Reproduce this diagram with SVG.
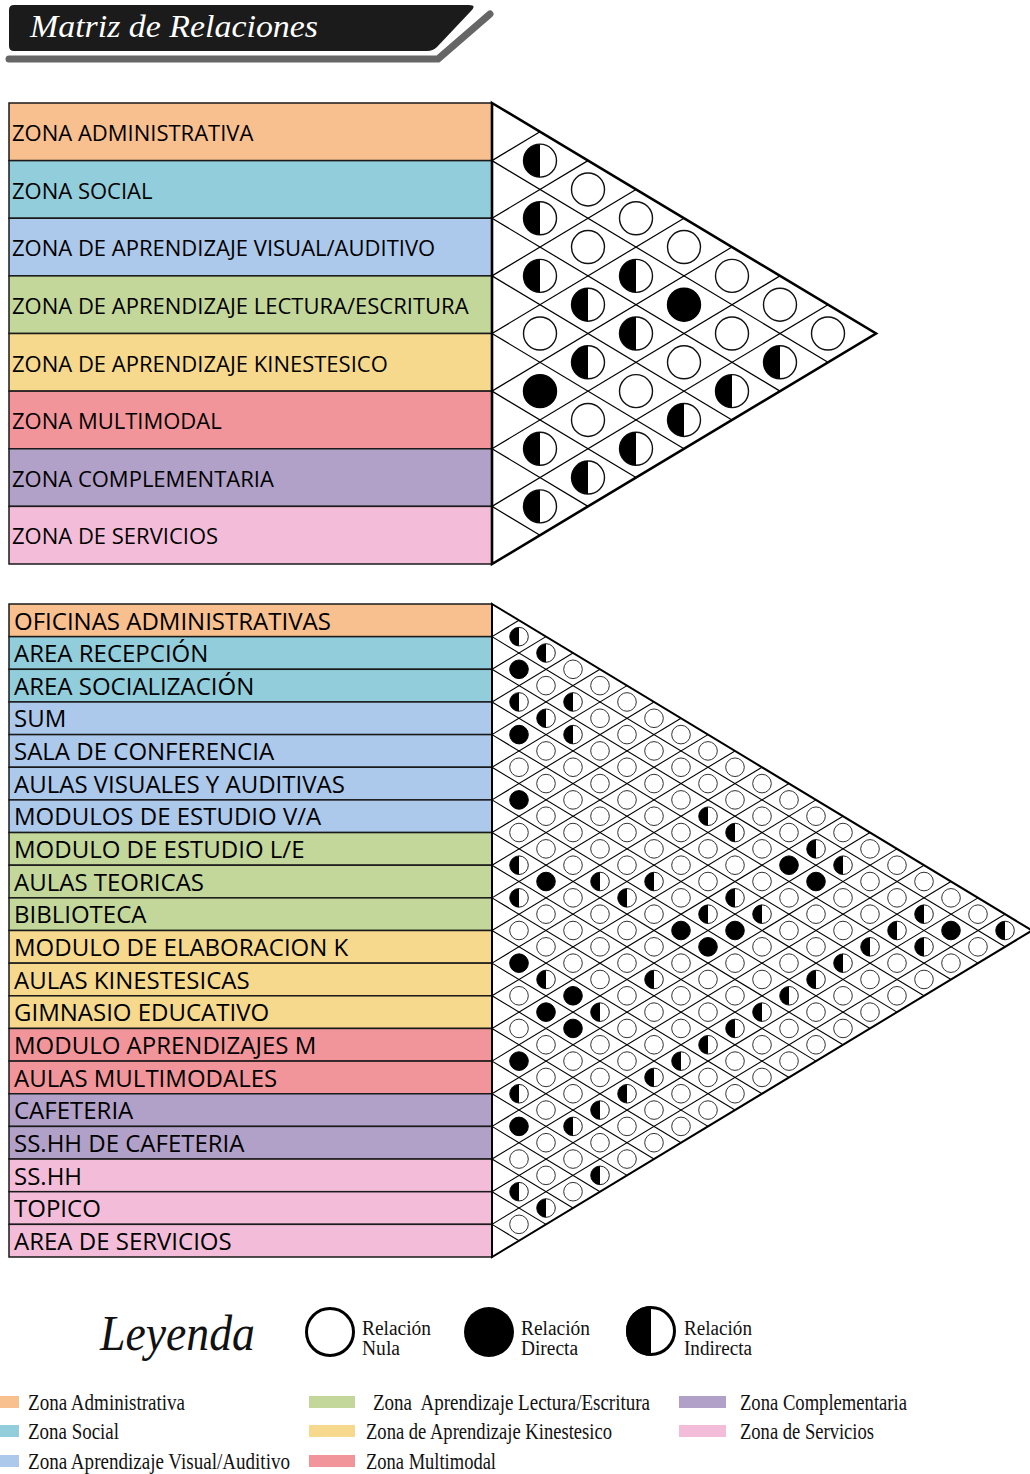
<svg xmlns="http://www.w3.org/2000/svg" width="1030" height="1474" viewBox="0 0 1030 1474">
<style>
.lbl{font-family:"Open Sans","Liberation Sans",sans-serif;fill:#000}
.t1{font-size:22px}
.t2{font-size:24px}
.row{stroke:#1a1a1a;stroke-width:1.5}
.grid{stroke:#000;fill:none}
.leg{font-family:"Liberation Serif","Times New Roman",serif;fill:#111}
.c-adm{fill:#F8BF8F}.c-soc{fill:#92CDDC}.c-vis{fill:#ACC8EA}.c-lec{fill:#C4D79B}
.c-kin{fill:#F6D98D}.c-mul{fill:#F2959B}.c-com{fill:#B1A0C7}.c-ser{fill:#F3BDD9}
</style>
<defs>
<g id="E1"><circle r="16.5" fill="#fff" stroke="#111" stroke-width="1.4"/></g>
<g id="F1"><circle r="16.5" fill="#000" stroke="#000" stroke-width="1.4"/></g>
<g id="H1"><circle r="16.5" fill="#fff" stroke="#111" stroke-width="1.4"/><path d="M0,-16.5A16.5,16.5 0 0 0 0,16.5Z" fill="#000"/></g>
<g id="e"><circle r="9.3" fill="#fff" stroke="#333" stroke-width="1"/></g>
<g id="f"><circle r="9.3" fill="#000" stroke="#000" stroke-width="1"/></g>
<g id="h"><circle r="9.3" fill="#fff" stroke="#222" stroke-width="1"/><path d="M0,-9.3A9.3,9.3 0 0 0 0,9.3Z" fill="#000"/></g>
</defs>
<rect width="1030" height="1474" fill="#fff"/>

<g id="header">
<polyline points="9,59 438,59 490,14" fill="none" stroke="#666" stroke-width="7" stroke-linecap="round" stroke-linejoin="round"/>
<path d="M14,5 H469 Q477,5 471,11 L437,47 Q433,51 427,51 H14 Q9,51 9,46 V10 Q9,5 14,5 Z" fill="#1b1b1b"/>
<text x="30" y="37" font-family="Liberation Serif,serif" font-style="italic" font-size="32" fill="#fff" textLength="288" lengthAdjust="spacingAndGlyphs">Matriz de Relaciones</text>
</g>

<!-- TOP MATRIX labels -->
<g id="top-labels" class="lbl t1">
<g id="z-admin"><rect class="row c-adm" x="9" y="103" width="483" height="57.625"/><text x="12" y="141">ZONA ADMINISTRATIVA</text></g>
<g id="z-social"><rect class="row c-soc" x="9" y="160.625" width="483" height="57.625"/><text x="12" y="198.6">ZONA SOCIAL</text></g>
<g id="z-visual"><rect class="row c-vis" x="9" y="218.25" width="483" height="57.625"/><text x="12" y="256.3">ZONA DE APRENDIZAJE VISUAL/AUDITIVO</text></g>
<g id="z-lectura"><rect class="row c-lec" x="9" y="275.875" width="483" height="57.625"/><text x="12" y="313.9">ZONA DE APRENDIZAJE LECTURA/ESCRITURA</text></g>
<g id="z-kines"><rect class="row c-kin" x="9" y="333.5" width="483" height="57.625"/><text x="12" y="371.5">ZONA DE APRENDIZAJE KINESTESICO</text></g>
<g id="z-multi"><rect class="row c-mul" x="9" y="391.125" width="483" height="57.625"/><text x="12" y="429.1">ZONA MULTIMODAL</text></g>
<g id="z-comp"><rect class="row c-com" x="9" y="448.75" width="483" height="57.625"/><text x="12" y="486.8">ZONA COMPLEMENTARIA</text></g>
<g id="z-serv"><rect class="row c-ser" x="9" y="506.375" width="483" height="57.625"/><text x="12" y="544.4">ZONA DE SERVICIOS</text></g>
</g>

<g id="connectors">
<g id="top-grid" class="grid" stroke-width="1.2">
<line x1="492" y1="160.625" x2="828" y2="362.3125"/>
<line x1="492" y1="218.25" x2="780" y2="391.125"/>
<line x1="492" y1="275.875" x2="732" y2="419.9375"/>
<line x1="492" y1="333.5" x2="684" y2="448.75"/>
<line x1="492" y1="391.125" x2="636" y2="477.5625"/>
<line x1="492" y1="448.75" x2="588" y2="506.375"/>
<line x1="492" y1="506.375" x2="540" y2="535.1875"/>
<line x1="492" y1="160.625" x2="540" y2="131.8125"/>
<line x1="492" y1="218.25" x2="588" y2="160.625"/>
<line x1="492" y1="275.875" x2="636" y2="189.4375"/>
<line x1="492" y1="333.5" x2="684" y2="218.25"/>
<line x1="492" y1="391.125" x2="732" y2="247.0625"/>
<line x1="492" y1="448.75" x2="780" y2="275.875"/>
<line x1="492" y1="506.375" x2="828" y2="304.6875"/>
</g>
<g id="bottom-grid" class="grid" stroke-width="1.1">
<line x1="492" y1="636.65" x2="1005" y2="946.825"/>
<line x1="492" y1="669.3" x2="978" y2="963.15"/>
<line x1="492" y1="701.95" x2="951" y2="979.475"/>
<line x1="492" y1="734.6" x2="924" y2="995.8"/>
<line x1="492" y1="767.25" x2="897" y2="1012.125"/>
<line x1="492" y1="799.9" x2="870" y2="1028.45"/>
<line x1="492" y1="832.55" x2="843" y2="1044.775"/>
<line x1="492" y1="865.2" x2="816" y2="1061.1"/>
<line x1="492" y1="897.85" x2="789" y2="1077.425"/>
<line x1="492" y1="930.5" x2="762" y2="1093.75"/>
<line x1="492" y1="963.15" x2="735" y2="1110.075"/>
<line x1="492" y1="995.8" x2="708" y2="1126.4"/>
<line x1="492" y1="1028.45" x2="681" y2="1142.725"/>
<line x1="492" y1="1061.1" x2="654" y2="1159.05"/>
<line x1="492" y1="1093.75" x2="627" y2="1175.375"/>
<line x1="492" y1="1126.4" x2="600" y2="1191.7"/>
<line x1="492" y1="1159.05" x2="573" y2="1208.025"/>
<line x1="492" y1="1191.7" x2="546" y2="1224.35"/>
<line x1="492" y1="1224.35" x2="519" y2="1240.675"/>
<line x1="492" y1="636.65" x2="519" y2="620.325"/>
<line x1="492" y1="669.3" x2="546" y2="636.65"/>
<line x1="492" y1="701.95" x2="573" y2="652.975"/>
<line x1="492" y1="734.6" x2="600" y2="669.3"/>
<line x1="492" y1="767.25" x2="627" y2="685.625"/>
<line x1="492" y1="799.9" x2="654" y2="701.95"/>
<line x1="492" y1="832.55" x2="681" y2="718.275"/>
<line x1="492" y1="865.2" x2="708" y2="734.6"/>
<line x1="492" y1="897.85" x2="735" y2="750.925"/>
<line x1="492" y1="930.5" x2="762" y2="767.25"/>
<line x1="492" y1="963.15" x2="789" y2="783.575"/>
<line x1="492" y1="995.8" x2="816" y2="799.9"/>
<line x1="492" y1="1028.45" x2="843" y2="816.225"/>
<line x1="492" y1="1061.1" x2="870" y2="832.55"/>
<line x1="492" y1="1093.75" x2="897" y2="848.875"/>
<line x1="492" y1="1126.4" x2="924" y2="865.2"/>
<line x1="492" y1="1159.05" x2="951" y2="881.525"/>
<line x1="492" y1="1191.7" x2="978" y2="897.85"/>
<line x1="492" y1="1224.35" x2="1005" y2="914.175"/>
</g>
</g>

<g id="top-triangle"><polygon points="492,103 876,333.5 492,564" fill="none" stroke="#000" stroke-width="2.6" stroke-linejoin="miter"/></g>

<g id="top-cells">
<use href="#H1" x="540" y="160.625"/>
<use href="#E1" x="588" y="189.4375"/>
<use href="#H1" x="540" y="218.25"/>
<use href="#E1" x="636" y="218.25"/>
<use href="#E1" x="588" y="247.0625"/>
<use href="#E1" x="684" y="247.0625"/>
<use href="#H1" x="540" y="275.875"/>
<use href="#H1" x="636" y="275.875"/>
<use href="#E1" x="732" y="275.875"/>
<use href="#H1" x="588" y="304.6875"/>
<use href="#F1" x="684" y="304.6875"/>
<use href="#E1" x="780" y="304.6875"/>
<use href="#E1" x="540" y="333.5"/>
<use href="#H1" x="636" y="333.5"/>
<use href="#E1" x="732" y="333.5"/>
<use href="#E1" x="828" y="333.5"/>
<use href="#H1" x="588" y="362.3125"/>
<use href="#E1" x="684" y="362.3125"/>
<use href="#H1" x="780" y="362.3125"/>
<use href="#F1" x="540" y="391.125"/>
<use href="#E1" x="636" y="391.125"/>
<use href="#H1" x="732" y="391.125"/>
<use href="#E1" x="588" y="419.9375"/>
<use href="#H1" x="684" y="419.9375"/>
<use href="#H1" x="540" y="448.75"/>
<use href="#H1" x="636" y="448.75"/>
<use href="#H1" x="588" y="477.5625"/>
<use href="#H1" x="540" y="506.375"/>
</g>

<!-- BOTTOM MATRIX labels -->
<g id="bottom-labels" class="lbl t2">
<g id="r01"><rect class="row c-adm" x="9" y="604" width="483" height="32.65"/><text x="14" y="629.5">OFICINAS ADMINISTRATIVAS</text></g>
<g id="r02"><rect class="row c-soc" x="9" y="636.65" width="483" height="32.65"/><text x="14" y="662.15">AREA RECEPCIÓN</text></g>
<g id="r03"><rect class="row c-soc" x="9" y="669.3" width="483" height="32.65"/><text x="14" y="694.8">AREA SOCIALIZACIÓN</text></g>
<g id="r04"><rect class="row c-vis" x="9" y="701.95" width="483" height="32.65"/><text x="14" y="727.45">SUM</text></g>
<g id="r05"><rect class="row c-vis" x="9" y="734.6" width="483" height="32.65"/><text x="14" y="760.1">SALA DE CONFERENCIA</text></g>
<g id="r06"><rect class="row c-vis" x="9" y="767.25" width="483" height="32.65"/><text x="14" y="792.75">AULAS VISUALES Y AUDITIVAS</text></g>
<g id="r07"><rect class="row c-vis" x="9" y="799.9" width="483" height="32.65"/><text x="14" y="825.4">MODULOS DE ESTUDIO V/A</text></g>
<g id="r08"><rect class="row c-lec" x="9" y="832.55" width="483" height="32.65"/><text x="14" y="858.05">MODULO DE ESTUDIO L/E</text></g>
<g id="r09"><rect class="row c-lec" x="9" y="865.2" width="483" height="32.65"/><text x="14" y="890.7">AULAS TEORICAS</text></g>
<g id="r10"><rect class="row c-lec" x="9" y="897.85" width="483" height="32.65"/><text x="14" y="923.35">BIBLIOTECA</text></g>
<g id="r11"><rect class="row c-kin" x="9" y="930.5" width="483" height="32.65"/><text x="14" y="956">MODULO DE ELABORACION K</text></g>
<g id="r12"><rect class="row c-kin" x="9" y="963.15" width="483" height="32.65"/><text x="14" y="988.65">AULAS KINESTESICAS</text></g>
<g id="r13"><rect class="row c-kin" x="9" y="995.8" width="483" height="32.65"/><text x="14" y="1021.3">GIMNASIO EDUCATIVO</text></g>
<g id="r14"><rect class="row c-mul" x="9" y="1028.45" width="483" height="32.65"/><text x="14" y="1053.95">MODULO APRENDIZAJES M</text></g>
<g id="r15"><rect class="row c-mul" x="9" y="1061.1" width="483" height="32.65"/><text x="14" y="1086.6">AULAS MULTIMODALES</text></g>
<g id="r16"><rect class="row c-com" x="9" y="1093.75" width="483" height="32.65"/><text x="14" y="1119.25">CAFETERIA</text></g>
<g id="r17"><rect class="row c-com" x="9" y="1126.4" width="483" height="32.65"/><text x="14" y="1151.9">SS.HH DE CAFETERIA</text></g>
<g id="r18"><rect class="row c-ser" x="9" y="1159.05" width="483" height="32.65"/><text x="14" y="1184.55">SS.HH</text></g>
<g id="r19"><rect class="row c-ser" x="9" y="1191.7" width="483" height="32.65"/><text x="14" y="1217.2">TOPICO</text></g>
<g id="r20"><rect class="row c-ser" x="9" y="1224.35" width="483" height="32.65"/><text x="14" y="1249.85">AREA DE SERVICIOS</text></g>
</g>

<g id="bottom-triangle"><polygon points="492,604 1032,930.5 492,1257" fill="none" stroke="#000" stroke-width="2" stroke-linejoin="miter"/></g>

<g id="bottom-cells">
<g transform="translate(519,0)">
<use href="#h" y="636.65"/><use href="#f" y="669.3"/><use href="#h" y="701.95"/><use href="#f" y="734.6"/><use href="#e" y="767.25"/><use href="#f" y="799.9"/><use href="#e" y="832.55"/><use href="#h" y="865.2"/><use href="#h" y="897.85"/><use href="#e" y="930.5"/><use href="#f" y="963.15"/><use href="#e" y="995.8"/><use href="#e" y="1028.45"/><use href="#f" y="1061.1"/><use href="#h" y="1093.75"/><use href="#f" y="1126.4"/><use href="#e" y="1159.05"/><use href="#h" y="1191.7"/><use href="#e" y="1224.35"/>
</g>
<g transform="translate(546,0)">
<use href="#h" y="652.975"/><use href="#e" y="685.625"/><use href="#h" y="718.275"/><use href="#e" y="750.925"/><use href="#e" y="783.575"/><use href="#e" y="816.225"/><use href="#e" y="848.875"/><use href="#f" y="881.525"/><use href="#e" y="914.175"/><use href="#e" y="946.825"/><use href="#h" y="979.475"/><use href="#f" y="1012.125"/><use href="#e" y="1044.775"/><use href="#e" y="1077.425"/><use href="#e" y="1110.075"/><use href="#e" y="1142.725"/><use href="#e" y="1175.375"/><use href="#h" y="1208.025"/>
</g>
<g transform="translate(573,0)">
<use href="#e" y="669.3"/><use href="#h" y="701.95"/><use href="#h" y="734.6"/><use href="#e" y="767.25"/><use href="#e" y="799.9"/><use href="#e" y="832.55"/><use href="#e" y="865.2"/><use href="#e" y="897.85"/><use href="#e" y="930.5"/><use href="#e" y="963.15"/><use href="#f" y="995.8"/><use href="#f" y="1028.45"/><use href="#e" y="1061.1"/><use href="#e" y="1093.75"/><use href="#h" y="1126.4"/><use href="#e" y="1159.05"/><use href="#e" y="1191.7"/>
</g>
<g transform="translate(600,0)">
<use href="#e" y="685.625"/><use href="#e" y="718.275"/><use href="#e" y="750.925"/><use href="#e" y="783.575"/><use href="#e" y="816.225"/><use href="#e" y="848.875"/><use href="#h" y="881.525"/><use href="#e" y="914.175"/><use href="#e" y="946.825"/><use href="#e" y="979.475"/><use href="#h" y="1012.125"/><use href="#e" y="1044.775"/><use href="#e" y="1077.425"/><use href="#h" y="1110.075"/><use href="#e" y="1142.725"/><use href="#h" y="1175.375"/>
</g>
<g transform="translate(627,0)">
<use href="#e" y="701.95"/><use href="#e" y="734.6"/><use href="#e" y="767.25"/><use href="#e" y="799.9"/><use href="#e" y="832.55"/><use href="#e" y="865.2"/><use href="#h" y="897.85"/><use href="#e" y="930.5"/><use href="#e" y="963.15"/><use href="#e" y="995.8"/><use href="#e" y="1028.45"/><use href="#e" y="1061.1"/><use href="#h" y="1093.75"/><use href="#e" y="1126.4"/><use href="#e" y="1159.05"/>
</g>
<g transform="translate(654,0)">
<use href="#e" y="718.275"/><use href="#e" y="750.925"/><use href="#e" y="783.575"/><use href="#e" y="816.225"/><use href="#e" y="848.875"/><use href="#h" y="881.525"/><use href="#e" y="914.175"/><use href="#e" y="946.825"/><use href="#h" y="979.475"/><use href="#e" y="1012.125"/><use href="#e" y="1044.775"/><use href="#h" y="1077.425"/><use href="#e" y="1110.075"/><use href="#e" y="1142.725"/>
</g>
<g transform="translate(681,0)">
<use href="#e" y="734.6"/><use href="#e" y="767.25"/><use href="#e" y="799.9"/><use href="#e" y="832.55"/><use href="#e" y="865.2"/><use href="#e" y="897.85"/><use href="#f" y="930.5"/><use href="#e" y="963.15"/><use href="#e" y="995.8"/><use href="#e" y="1028.45"/><use href="#h" y="1061.1"/><use href="#e" y="1093.75"/><use href="#e" y="1126.4"/>
</g>
<g transform="translate(708,0)">
<use href="#e" y="750.925"/><use href="#e" y="783.575"/><use href="#h" y="816.225"/><use href="#e" y="848.875"/><use href="#e" y="881.525"/><use href="#h" y="914.175"/><use href="#f" y="946.825"/><use href="#e" y="979.475"/><use href="#e" y="1012.125"/><use href="#h" y="1044.775"/><use href="#e" y="1077.425"/><use href="#e" y="1110.075"/>
</g>
<g transform="translate(735,0)">
<use href="#e" y="767.25"/><use href="#e" y="799.9"/><use href="#h" y="832.55"/><use href="#e" y="865.2"/><use href="#h" y="897.85"/><use href="#f" y="930.5"/><use href="#e" y="963.15"/><use href="#e" y="995.8"/><use href="#h" y="1028.45"/><use href="#e" y="1061.1"/><use href="#e" y="1093.75"/>
</g>
<g transform="translate(762,0)">
<use href="#e" y="783.575"/><use href="#e" y="816.225"/><use href="#e" y="848.875"/><use href="#e" y="881.525"/><use href="#h" y="914.175"/><use href="#e" y="946.825"/><use href="#e" y="979.475"/><use href="#h" y="1012.125"/><use href="#e" y="1044.775"/><use href="#e" y="1077.425"/>
</g>
<g transform="translate(789,0)">
<use href="#e" y="799.9"/><use href="#e" y="832.55"/><use href="#f" y="865.2"/><use href="#e" y="897.85"/><use href="#e" y="930.5"/><use href="#e" y="963.15"/><use href="#h" y="995.8"/><use href="#e" y="1028.45"/><use href="#e" y="1061.1"/>
</g>
<g transform="translate(816,0)">
<use href="#e" y="816.225"/><use href="#h" y="848.875"/><use href="#f" y="881.525"/><use href="#e" y="914.175"/><use href="#e" y="946.825"/><use href="#h" y="979.475"/><use href="#e" y="1012.125"/><use href="#e" y="1044.775"/>
</g>
<g transform="translate(843,0)">
<use href="#e" y="832.55"/><use href="#h" y="865.2"/><use href="#e" y="897.85"/><use href="#e" y="930.5"/><use href="#h" y="963.15"/><use href="#e" y="995.8"/><use href="#e" y="1028.45"/>
</g>
<g transform="translate(870,0)">
<use href="#e" y="848.875"/><use href="#e" y="881.525"/><use href="#e" y="914.175"/><use href="#h" y="946.825"/><use href="#e" y="979.475"/><use href="#e" y="1012.125"/>
</g>
<g transform="translate(897,0)">
<use href="#e" y="865.2"/><use href="#e" y="897.85"/><use href="#h" y="930.5"/><use href="#e" y="963.15"/><use href="#e" y="995.8"/>
</g>
<g transform="translate(924,0)">
<use href="#e" y="881.525"/><use href="#h" y="914.175"/><use href="#h" y="946.825"/><use href="#e" y="979.475"/>
</g>
<g transform="translate(951,0)">
<use href="#e" y="897.85"/><use href="#f" y="930.5"/><use href="#e" y="963.15"/>
</g>
<g transform="translate(978,0)">
<use href="#e" y="914.175"/><use href="#e" y="946.825"/>
</g>
<g transform="translate(1005,0)">
<use href="#h" y="930.5"/>
</g>
</g>

<g id="legend">
<text x="100" y="1350" font-family="Liberation Serif,serif" font-style="italic" font-size="50" fill="#111" textLength="155" lengthAdjust="spacingAndGlyphs">Leyenda</text>
<g id="leg-nula">
<circle cx="330" cy="1332" r="23.5" fill="#fff" stroke="#000" stroke-width="3"/>
<text class="leg" x="362" y="1335" font-size="20" textLength="69" lengthAdjust="spacingAndGlyphs">Relación</text>
<text class="leg" x="362" y="1355" font-size="20" textLength="38" lengthAdjust="spacingAndGlyphs">Nula</text>
</g>
<g id="leg-directa">
<circle cx="489" cy="1332" r="25" fill="#000"/>
<text class="leg" x="521" y="1335" font-size="20" textLength="69" lengthAdjust="spacingAndGlyphs">Relación</text>
<text class="leg" x="521" y="1355" font-size="20" textLength="57" lengthAdjust="spacingAndGlyphs">Directa</text>
</g>
<g id="leg-indirecta">
<circle cx="651" cy="1331" r="23.5" fill="#fff" stroke="#000" stroke-width="3"/>
<path d="M651,1306 A25,25 0 0 0 651,1356 Z" fill="#000"/>
<text class="leg" x="684" y="1335" font-size="20" textLength="68" lengthAdjust="spacingAndGlyphs">Relación</text>
<text class="leg" x="684" y="1355" font-size="20" textLength="68" lengthAdjust="spacingAndGlyphs">Indirecta</text>
</g>
<g id="leg-zonas">
<rect class="c-adm" x="0" y="1396" width="19" height="12"/>
<text class="leg" x="28" y="1410" font-size="24" textLength="157" lengthAdjust="spacingAndGlyphs">Zona Administrativa</text>
<rect class="c-soc" x="0" y="1425" width="19" height="12"/>
<text class="leg" x="28" y="1439" font-size="24" textLength="91" lengthAdjust="spacingAndGlyphs">Zona Social</text>
<rect class="c-vis" x="0" y="1455" width="19" height="12"/>
<text class="leg" x="28" y="1469" font-size="24" textLength="262" lengthAdjust="spacingAndGlyphs">Zona Aprendizaje Visual/Auditivo</text>
<rect class="c-lec" x="309" y="1396" width="46" height="12"/>
<text class="leg" x="373" y="1410" font-size="24" textLength="277" lengthAdjust="spacingAndGlyphs" style="white-space:pre">Zona  Aprendizaje Lectura/Escritura</text>
<rect class="c-kin" x="309" y="1425" width="46" height="12"/>
<text class="leg" x="366" y="1439" font-size="24" textLength="246" lengthAdjust="spacingAndGlyphs">Zona de Aprendizaje Kinestesico</text>
<rect class="c-mul" x="309" y="1455" width="46" height="12"/>
<text class="leg" x="366" y="1469" font-size="24" textLength="130" lengthAdjust="spacingAndGlyphs">Zona Multimodal</text>
<rect class="c-com" x="679" y="1396" width="47" height="12"/>
<text class="leg" x="740" y="1410" font-size="24" textLength="167" lengthAdjust="spacingAndGlyphs">Zona Complementaria</text>
<rect class="c-ser" x="679" y="1425" width="47" height="12"/>
<text class="leg" x="740" y="1439" font-size="24" textLength="134" lengthAdjust="spacingAndGlyphs">Zona de Servicios</text>
</g>
</g>
</svg>
